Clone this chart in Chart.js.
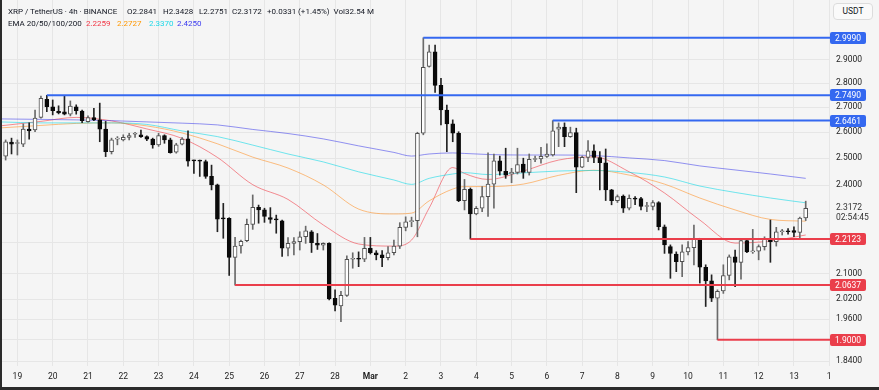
<!DOCTYPE html>
<html>
<head>
<meta charset="utf-8">
<script src="https://cdn.jsdelivr.net/npm/chart.js@4.4.1/dist/chart.umd.min.js"></script>
<style>
html,body{margin:0;padding:0;background:#f5f5f5;}
#wrap{position:relative;width:879px;height:390px;overflow:hidden;background:#f5f5f5;font-family:Roboto,"Noto Sans",sans-serif;}
#c{position:absolute;left:0;top:0;}
.t{position:absolute;font-size:8px;line-height:12px;color:#131722;white-space:nowrap;}
#usdt{position:absolute;left:833px;top:3px;width:38px;height:15px;border:1px solid #dcdcdc;border-radius:4px;background:#fafafa;font-size:8.5px;line-height:15px;text-align:center;color:#131722;}
#fl{position:absolute;left:0;top:0;width:2px;height:390px;background:#2b2b2b;}
#fb{position:absolute;left:0;top:387px;width:879px;height:3px;background:#2b2b2b;}
</style>
</head>
<body>
<div id="wrap">
<canvas id="c" width="879" height="390"></canvas>
<div class="t" style="left:8px;top:6px;">XRP / TetherUS · 4h · BINANCE</div>
<div class="t" style="left:127px;top:6px;">O2.2841</div>
<div class="t" style="left:163px;top:6px;">H2.3428</div>
<div class="t" style="left:199px;top:6px;">L2.2751</div>
<div class="t" style="left:232px;top:6px;">C2.3172</div>
<div class="t" style="left:267px;top:6px;">+0.0331 (+1.45%)&nbsp;&nbsp;Vol32.54 M</div>
<div class="t" style="left:8px;top:18px;">EMA 20/50/100/200</div>
<div class="t" style="left:86px;top:18px;color:#f23645;">2.2259</div>
<div class="t" style="left:117px;top:18px;color:#ff9800;">2.2727</div>
<div class="t" style="left:149px;top:18px;color:#1fd8e8;">2.3370</div>
<div class="t" style="left:177px;top:18px;color:#3a3af0;">2.4250</div>
<div id="usdt">USDT</div>
<div id="fl"></div>
<div id="fb"></div>
</div>
<script>
// candle index: 4h periods counted from 19 Feb 00:00
const firstIndex = -2;
const opens = [2.508,2.562,2.556,2.554,2.612,2.609,2.659,2.733,2.702,2.683,2.681,2.672,2.702,2.685,2.642,2.658,2.649,2.612,2.525,2.573,2.570,2.580,2.592,2.590,2.583,2.573,2.551,2.587,2.570,2.523,2.554,2.574,2.492,2.490,2.487,2.432,2.401,2.283,2.283,2.152,2.190,2.207,2.262,2.321,2.312,2.285,2.281,2.274,2.182,2.198,2.204,2.220,2.237,2.198,2.192,2.198,2.023,2.000,2.032,2.146,2.148,2.146,2.182,2.167,2.160,2.151,2.167,2.189,2.252,2.271,2.275,2.596,2.872,2.936,2.791,2.689,2.633,2.596,2.345,2.385,2.298,2.318,2.359,2.404,2.490,2.451,2.441,2.447,2.478,2.447,2.495,2.497,2.507,2.512,2.612,2.620,2.583,2.599,2.466,2.503,2.528,2.502,2.483,2.383,2.345,2.361,2.318,2.352,2.352,2.324,2.324,2.338,2.254,2.187,2.163,2.138,2.170,2.184,2.213,2.120,2.077,2.023,2.046,2.094,2.154,2.136,2.207,2.170,2.172,2.187,2.212,2.204,2.237,2.239,2.241,2.235,2.2841];
const highs = [2.570,2.577,2.570,2.633,2.637,2.689,2.746,2.749,2.730,2.706,2.746,2.726,2.710,2.689,2.665,2.696,2.717,2.643,2.577,2.583,2.590,2.596,2.600,2.609,2.586,2.577,2.596,2.590,2.577,2.557,2.579,2.606,2.493,2.493,2.493,2.474,2.404,2.335,2.285,2.218,2.209,2.280,2.365,2.329,2.318,2.320,2.294,2.277,2.217,2.217,2.237,2.256,2.241,2.231,2.200,2.200,2.049,2.044,2.157,2.167,2.170,2.218,2.218,2.174,2.174,2.187,2.209,2.268,2.288,2.287,2.600,2.999,2.966,2.966,2.821,2.709,2.649,2.602,2.421,2.390,2.324,2.395,2.520,2.516,2.508,2.538,2.462,2.538,2.500,2.516,2.508,2.541,2.555,2.6461,2.637,2.637,2.620,2.616,2.508,2.567,2.551,2.525,2.535,2.385,2.365,2.365,2.365,2.359,2.356,2.339,2.345,2.341,2.260,2.193,2.170,2.193,2.204,2.260,2.215,2.128,2.096,2.049,2.128,2.160,2.176,2.212,2.212,2.245,2.193,2.220,2.277,2.252,2.245,2.248,2.254,2.287,2.3428];
const lows = [2.493,2.516,2.512,2.544,2.573,2.602,2.656,2.682,2.669,2.673,2.669,2.665,2.672,2.638,2.640,2.646,2.563,2.506,2.516,2.551,2.566,2.570,2.580,2.580,2.567,2.538,2.545,2.557,2.519,2.519,2.551,2.470,2.443,2.432,2.425,2.383,2.237,2.215,2.094,2.0637,2.166,2.204,2.245,2.266,2.269,2.266,2.232,2.155,2.157,2.160,2.176,2.198,2.168,2.178,2.176,2.018,1.985,1.953,2.029,2.117,2.122,2.138,2.163,2.144,2.122,2.144,2.160,2.181,2.240,2.254,2.220,2.590,2.869,2.761,2.629,2.525,2.563,2.341,2.312,2.2123,2.295,2.306,2.289,2.318,2.437,2.425,2.409,2.441,2.425,2.437,2.487,2.481,2.503,2.508,2.544,2.544,2.580,2.373,2.464,2.487,2.483,2.383,2.345,2.330,2.338,2.303,2.312,2.330,2.312,2.306,2.312,2.243,2.165,2.085,2.106,2.090,2.160,2.128,2.070,1.998,2.013,1.900,2.038,2.080,2.059,2.082,2.167,2.165,2.144,2.176,2.136,2.189,2.226,2.229,2.220,2.215,2.2751];
const closes = [2.563,2.554,2.560,2.612,2.605,2.656,2.737,2.702,2.686,2.677,2.672,2.705,2.686,2.646,2.658,2.649,2.612,2.525,2.570,2.575,2.580,2.587,2.594,2.583,2.573,2.551,2.587,2.570,2.521,2.551,2.573,2.489,2.490,2.489,2.432,2.401,2.280,2.281,2.152,2.189,2.205,2.262,2.321,2.312,2.289,2.279,2.277,2.182,2.198,2.204,2.220,2.240,2.200,2.192,2.198,2.021,2.002,2.032,2.146,2.148,2.146,2.182,2.167,2.160,2.151,2.167,2.189,2.252,2.271,2.275,2.596,2.868,2.936,2.791,2.689,2.633,2.596,2.345,2.385,2.298,2.318,2.359,2.404,2.490,2.451,2.437,2.448,2.476,2.447,2.496,2.497,2.507,2.516,2.606,2.620,2.583,2.599,2.466,2.503,2.528,2.503,2.483,2.383,2.345,2.359,2.318,2.353,2.350,2.324,2.325,2.338,2.254,2.193,2.165,2.138,2.170,2.184,2.213,2.120,2.077,2.023,2.044,2.094,2.154,2.136,2.207,2.170,2.172,2.187,2.212,2.204,2.237,2.239,2.237,2.235,2.2841,2.3172];

// EMA lines, read at these candle indices
const emaIdx = [-3,4,10,16,22,28,34,40,46,52,58,64,67,70,74,76,80,86,92,98,104,110,116,122,128,134];
const ema20  = [2.625,2.643,2.659,2.645,2.613,2.576,2.503,2.402,2.349,2.260,2.196,2.189,2.209,2.319,2.465,2.443,2.421,2.452,2.493,2.505,2.449,2.372,2.277,2.199,2.206,2.226];
const ema50  = [2.617,2.627,2.635,2.637,2.625,2.597,2.555,2.504,2.463,2.401,2.315,2.298,2.301,2.344,2.386,2.395,2.395,2.404,2.436,2.455,2.437,2.404,2.354,2.312,2.279,2.273];
const ema100 = [2.641,2.637,2.637,2.637,2.631,2.605,2.583,2.550,2.516,2.486,2.449,2.419,2.403,2.425,2.441,2.446,2.439,2.445,2.452,2.454,2.447,2.430,2.397,2.374,2.354,2.337];
const ema200 = [2.653,2.651,2.649,2.646,2.641,2.636,2.629,2.611,2.595,2.574,2.547,2.522,2.508,2.516,2.520,2.518,2.514,2.512,2.512,2.510,2.501,2.491,2.471,2.456,2.441,2.425];

// horizontal levels and the candle where each starts
const levelValues = [2.9990, 2.7490, 2.6461, 2.2123, 2.0637, 1.9000];
const levelStart  = [69, 5, 91, 77, 37, 119];
const levelKinds  = ['res','res','res','sup','sup','sup'];

// axes
const dayIdx = [0,6,12,18,24,30,36,42,48,54,60,66,72,78,84,90,96,102,108,114,120,126,132,138];
const dayLabels = ['19','20','21','22','23','24','25','26','27','28','Mar','2','3','4','5','6','7','8','9','10','11','12','13','1'];
const yTicks = [1.84,1.90,1.96,2.02,2.10,2.20,2.30,2.40,2.50,2.60,2.70,2.80,2.90];
const lastPrice = 2.3172;
const countdown = '02:54:45';

const BLUE = '#3468f0', RED = '#ea3e4b';
const X_MIN = -2.958, X_MAX = 138.13, Y_MIN = 1.8262, Y_MAX = 3.1752;

const ks = opens.map((_, i) => firstIndex + i);
const up = opens.map((o, i) => closes[i] >= o);

const datasets = [];
levelValues.forEach((v, i) => {
  datasets.push({type:'line', data:[{x:levelStart[i], y:v},{x:X_MAX, y:v}],
    borderColor: levelKinds[i]==='res'?BLUE:RED, borderWidth:2, pointRadius:0, order:0});
});
datasets.push({type:'bar', data: ks.map((k,i)=>({x:k, y:[opens[i], closes[i]]})),
  backgroundColor: up.map(u=>u?'#ffffff':'#0a0a0a'),
  borderColor: up.map(u=>u?'#505050':'#0a0a0a'),
  borderWidth:1, borderSkipped:false, barThickness:4, minBarLength:1, grouped:false, order:1});
datasets.push({type:'bar', data: ks.map((k,i)=>({x:k, y:[lows[i], highs[i]]})),
  backgroundColor: up.map(u=>u?'#6a6a6a':'#222222'),
  borderWidth:0, barThickness:1, grouped:false, order:2});
[[ema200,'rgba(60,60,235,0.55)'],[ema100,'rgba(0,215,230,0.55)'],[ema50,'rgba(255,140,30,0.55)'],[ema20,'rgba(240,50,60,0.55)']].forEach(([arr,col])=>{
  datasets.push({type:'line', data: emaIdx.map((k,i)=>({x:k, y:arr[i]})), borderColor:col, borderWidth:1,
    pointRadius:0, cubicInterpolationMode:'monotone', order:3});
});

function rr(ctx,x,y,w,h,r){ctx.beginPath();ctx.moveTo(x+r,y);ctx.lineTo(x+w-r,y);ctx.quadraticCurveTo(x+w,y,x+w,y+r);ctx.lineTo(x+w,y+h-r);ctx.quadraticCurveTo(x+w,y+h,x+w-r,y+h);ctx.lineTo(x+r,y+h);ctx.quadraticCurveTo(x,y+h,x,y+h-r);ctx.lineTo(x,y+r);ctx.quadraticCurveTo(x,y,x+r,y);ctx.closePath();}

const labelPlugin = {
  id:'labels',
  afterDraw(chart){
    const {ctx, scales:{y}, chartArea} = chart;
    ctx.save();
    ctx.font = '8.5px Roboto';
    ctx.textBaseline = 'middle';
    const lx = chartArea.right;
    const py0 = y.getPixelForValue(lastPrice);
    ctx.fillStyle = '#333';
    ctx.textAlign = 'left';
    ctx.fillText(lastPrice.toFixed(4), lx+6, py0-1);
    ctx.fillText(countdown, lx+6, py0+9);
    levelValues.forEach((v,i)=>{
      const py = y.getPixelForValue(v);
      ctx.fillStyle = levelKinds[i]==='res'?BLUE:RED;
      rr(ctx, lx, Math.round(py)-6, 36, 12, 2);
      ctx.fill();
      ctx.fillStyle = '#fff';
      ctx.textAlign = 'center';
      ctx.fillText(v.toFixed(4), lx+18, Math.round(py)+0.5);
    });
    ctx.restore();
  }
};

new Chart(document.getElementById('c'), {
  type:'line',
  data:{datasets},
  options:{
    responsive:false, animation:false, events:[],
    layout:{padding:0},
    plugins:{legend:{display:false}, tooltip:{enabled:false}},
    scales:{
      x:{type:'linear', min:X_MIN, max:X_MAX, offset:false,
        afterBuildTicks:s=>{s.ticks = dayIdx.map(v=>({value:v}));},
        afterFit:s=>{s.height=24; s.paddingLeft=0; s.paddingRight=0;},
        grid:{color:'#e6e6e6', drawTicks:false, offset:false}, border:{display:false},
        ticks:{autoSkip:false, maxRotation:0, padding:6, color:'#222',
          font:(c)=>({size:8.5, family:'Roboto', weight:(c.tick && c.tick.value===60)?'bold':'normal'}),
          callback:(v,i)=>dayLabels[i]}},
      y:{type:'logarithmic', position:'right', min:Y_MIN, max:Y_MAX, beginAtZero:false,
        afterBuildTicks:s=>{s.ticks = yTicks.map(v=>({value:v}));},
        afterFit:s=>{s.width=49; s.paddingTop=0; s.paddingBottom=0;},
        grid:{color:'#e6e6e6', drawTicks:false}, border:{display:false},
        ticks:{autoSkip:false, padding:6, color:'#222', font:{size:8.5, family:'Roboto'},
          callback:(v)=> v===2.30 ? '' : Number(v).toFixed(4)}}
    }
  },
  plugins:[labelPlugin]
});
</script>
</body>
</html>
